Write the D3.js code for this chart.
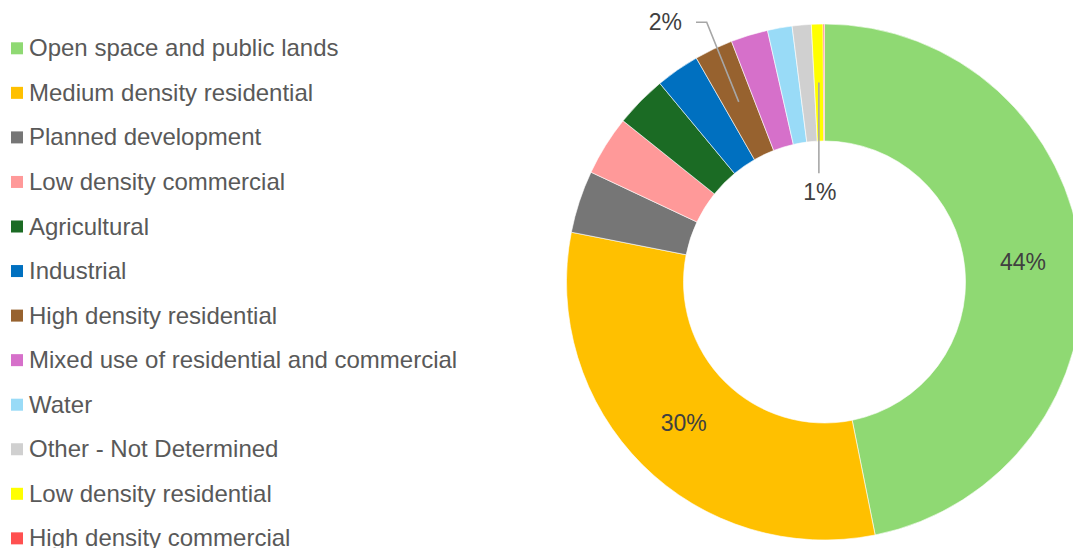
<!DOCTYPE html>
<html>
<head>
<meta charset="utf-8">
<script src="https://cdn.jsdelivr.net/npm/d3@7"></script>
<style>
  html, body { margin: 0; padding: 0; background: #fff; overflow: hidden; }
  svg { display: block; font-family: "Liberation Sans", Arial, sans-serif; }
</style>
</head>
<body>
<svg id="chart" width="1073" height="548"></svg>
<script>
// Land use shares (percent)
const categories = [
  "Open space and public lands",
  "Medium density residential",
  "Planned development",
  "Low density commercial",
  "Agricultural",
  "Industrial",
  "High density residential",
  "Mixed use of residential and commercial",
  "Water",
  "Other - Not Determined",
  "Low density residential",
  "High density commercial"
];
const values = [44.4, 29.6, 3.7, 3.55, 3.07, 2.6, 2.28, 2.2, 1.46, 1.13, 0.69, 0.08];
const colors = [
  "#8fd973", "#ffc000", "#767676", "#ff9999", "#1b6b24", "#0070c0",
  "#97622f", "#d670ca", "#99dbf7", "#d0d0d0", "#ffff00", "#ff5050"
];
// Slices that carry a value label
const labelled = [
  "Open space and public lands",
  "Medium density residential",
  "High density residential",
  "Low density residential"
];

const data = categories.map((c, i) => ({ category: c, value: values[i], color: colors[i] }));

const svg = d3.select("#chart");
const cx = 824.5, cy = 282, rOuter = 258, rInner = 141;

const pie = d3.pie().value(d => d.value).sort(null).startAngle(0).endAngle(2 * Math.PI);
const arcs = pie(data);
const arc = d3.arc().innerRadius(rInner).outerRadius(rOuter);
const mid = d3.arc().innerRadius((rInner + rOuter) / 2).outerRadius((rInner + rOuter) / 2);

const g = svg.append("g").attr("transform", `translate(${cx},${cy})`);

g.selectAll("path.slice")
  .data(arcs)
  .join("path")
  .attr("class", "slice")
  .attr("d", arc)
  .attr("fill", d => d.data.color)
  .attr("stroke", "#ffffff")
  .attr("stroke-width", 0.6);

const fmt = v => Math.round(v) + "%";
const labelColor = "#404040";

// Inside labels for the two large slices
arcs.filter(a => a.data.category === labelled[0] || a.data.category === labelled[1])
  .forEach(a => {
    const [x, y] = mid.centroid(a);
    g.append("text")
      .attr("x", x).attr("y", y + 8)
      .attr("text-anchor", "middle")
      .attr("font-size", 23)
      .attr("fill", labelColor)
      .text(fmt(a.data.value));
  });

// Leader-line labels for the thin slices
const leaderStyle = { stroke: "#a6a6a6", width: 1.6 };
arcs.filter(a => a.data.category === labelled[2]).forEach(a => {
  const [x, y] = mid.centroid(a);
  const ex = 706.7 - cx, ey = 22.3 - cy, tx = 696 - cx;
  g.append("polyline")
    .attr("points", `${x},${y} ${ex},${ey} ${tx},${ey}`)
    .attr("fill", "none").attr("stroke", leaderStyle.stroke).attr("stroke-width", leaderStyle.width);
  g.append("text")
    .attr("x", tx - 14).attr("y", ey + 8)
    .attr("text-anchor", "end")
    .attr("font-size", 23)
    .attr("fill", labelColor)
    .text(fmt(a.data.value));
});
arcs.filter(a => a.data.category === labelled[3]).forEach(a => {
  const [x, y] = mid.centroid(a);
  const ey = 173.3 - cy;
  g.append("polyline")
    .attr("points", `${x},${y} ${x},${ey}`)
    .attr("fill", "none").attr("stroke", leaderStyle.stroke).attr("stroke-width", leaderStyle.width);
  g.append("text")
    .attr("x", x + 1).attr("y", 200 - cy)
    .attr("text-anchor", "middle")
    .attr("font-size", 23)
    .attr("fill", labelColor)
    .text(fmt(a.data.value));
});

// Legend
const legend = svg.append("g").attr("transform", "translate(11,42.3)");
const rowH = 44.55;
const rows = legend.selectAll("g.row")
  .data(data)
  .join("g")
  .attr("class", "row")
  .attr("transform", (d, i) => `translate(0,${i * rowH})`);
rows.append("rect")
  .attr("width", 12).attr("height", 12)
  .attr("fill", d => d.color);
rows.append("text")
  .attr("x", 18).attr("y", 14)
  .attr("font-size", 24)
  .attr("fill", "#595959")
  .text(d => d.category);
</script>
</body>
</html>
